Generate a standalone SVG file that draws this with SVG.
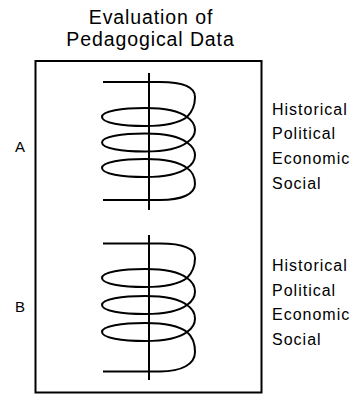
<svg xmlns="http://www.w3.org/2000/svg" width="351" height="395" viewBox="0 0 351 395">
<style>
text{font-family:"Liberation Sans",Arial,sans-serif;fill:#000}
.t{font-size:19.5px;text-anchor:middle;letter-spacing:0.9px}
.l{font-size:16px;letter-spacing:1px}
.ab{font-size:15px;text-anchor:middle}
.s{fill:none;stroke:#000;stroke-width:2;stroke-linejoin:round}
.ax{stroke:#000;stroke-width:2}
</style>
<rect width="351" height="395" fill="#fff"/>
<g id="title">
<text class="t" x="151" y="24">Evaluation of</text>
<text class="t" x="150.5" y="46">Pedagogical Data</text>
</g>
<g id="frame"><rect x="35.5" y="61" width="226" height="331.5" fill="none" stroke="#000" stroke-width="2"/></g>
<g id="spiralA">
<line class="ax" x1="149" y1="73" x2="149" y2="210"/>
<path class="s" d="M103,82 H160 C180,82 195,86 195,97 C195,106 192,112 187,117 C178,124 162,126 145,126 C122,126 102,123 102,117 C102,111 122,108 145,108 C162,108 178,110 187,117 C193,121 195,125 195,129.75 C195,134.5 193,138.5 187,142.5 C178,149.5 162,151.5 145,151.5 C122,151.5 102,148.5 102,142.5 C102,136.5 122,133.5 145,133.5 C162,133.5 178,135.5 187,142.5 C193,146.5 195,150.5 195,155.25 C195,160 193,164 187,168 C178,175 162,177 145,177 C122,177 102,174 102,168 C102,162 122,159 145,159 C162,159 178,161 187,168 C193,172 195,177 195,184 C195,194 182,200 160,200 H103"/>
</g>
<g id="spiralB">
<line class="ax" x1="149" y1="235" x2="149" y2="380"/>
<path class="s" d="M103,243.5 H160 C180,243.5 195,247.5 195,258 C195,267 192,273 187,278 C178,285 162,287 145,287 C122,287 102,284 102,278 C102,272 122,269 145,269 C162,269 178,271 187,278 C193,282 195,286 195,291.5 C195,297 193,301 187,305 C178,312 162,314 145,314 C122,314 102,311 102,305 C102,299 122,296 145,296 C162,296 178,298 187,305 C193,309 195,313 195,318.5 C195,324 193,328 187,332 C178,339 162,341 145,341 C122,341 102,338 102,332 C102,326 122,323 145,323 C162,323 178,325 187,332 C193,337 195,344 195,352 C195,364 182,371.5 160,371.5 H103"/>
</g>
<g id="labelA"><text class="ab" x="20" y="152">A</text></g>
<g id="labelB"><text class="ab" x="20" y="312">B</text></g>
<g id="listA">
<text class="l" x="272" y="114.5">Historical</text>
<text class="l" x="272" y="139.3">Political</text>
<text class="l" x="272" y="164.3">Economic</text>
<text class="l" x="272" y="189">Social</text>
</g>
<g id="listB">
<text class="l" x="272" y="271">Historical</text>
<text class="l" x="272" y="295.5">Political</text>
<text class="l" x="272" y="320">Economic</text>
<text class="l" x="272" y="344.5">Social</text>
</g>
</svg>
